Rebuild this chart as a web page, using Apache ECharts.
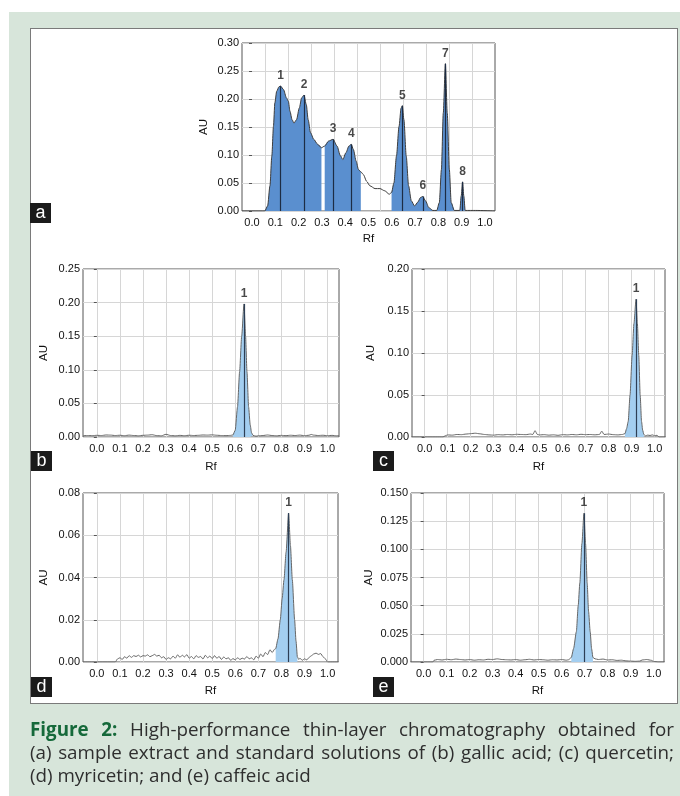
<!DOCTYPE html>
<html><head><meta charset="utf-8">
<script src="https://cdn.jsdelivr.net/npm/echarts@6/dist/echarts.min.js"></script>
<style>
html,body{margin:0;padding:0;width:680px;height:796px;background:#fff;overflow:hidden}
#bg{position:absolute;left:9px;top:12px;width:671px;height:784px;background:#d7e5da}
#box{position:absolute;left:30px;top:28px;width:646px;height:674px;background:#fff;border:1px solid #7a7a7a}
#chart{position:absolute;left:0;top:0;width:680px;height:796px}
.tag{position:absolute;width:21px;height:20px;background:#1b1b1b;color:#fff;font:18px "Liberation Sans",Arial,sans-serif;line-height:18px;text-align:center}
#cap{position:absolute;left:30px;top:718px;width:644px;font-family:"Open Sans",sans-serif;font-size:18.8px;color:#2e2e2e;line-height:23px}
#cap div{white-space:nowrap}
#cap .j{text-align:justify;text-align-last:justify}
#cap b{color:#15693a}
</style></head>
<body>
<div id="bg"></div>
<div id="box"></div>
<div id="chart"></div>
<div class="tag" style="left:30px;top:203px">a</div>
<div class="tag" style="left:31px;top:451px">b</div>
<div class="tag" style="left:373px;top:451px">c</div>
<div class="tag" style="left:31px;top:677px">d</div>
<div class="tag" style="left:373px;top:677px">e</div>
<div id="cap">
<div class="j"><b>Figure 2:</b> High-performance thin-layer chromatography obtained for</div>
<div class="j">(a) sample extract and standard solutions of (b) gallic acid; (c) quercetin;</div>
<div>(d) myricetin; and (e) caffeic acid</div>
</div>
<script>
// ---------- data ----------
const xTickLabels = [0.0,0.1,0.2,0.3,0.4,0.5,0.6,0.7,0.8,0.9,1.0];

// Panel a: sample extract  [Rf, AU]
const profileA = [[-0.043,0],[0.055,0],[0.067,0.009],[0.077,0.045],[0.085,0.098],[0.092,0.151],[0.098,0.193],
 [0.106,0.214],[0.116,0.222],[0.123,0.223],[0.135,0.217],[0.148,0.202],[0.156,0.196],[0.163,0.178],[0.172,0.163],
 [0.180,0.157],[0.191,0.163],[0.203,0.184],[0.213,0.202],[0.223,0.207],[0.233,0.190],[0.241,0.163],[0.251,0.140],
 [0.265,0.128],[0.282,0.119],[0.298,0.113],[0.312,0.116],[0.329,0.125],[0.348,0.128],[0.365,0.116],[0.379,0.099],
 [0.390,0.092],[0.403,0.104],[0.416,0.116],[0.426,0.119],[0.435,0.110],[0.447,0.089],[0.457,0.074],[0.467,0.070],
 [0.478,0.065],[0.492,0.053],[0.506,0.045],[0.528,0.040],[0.549,0.040],[0.570,0.036],[0.589,0.030],[0.599,0.033],
 [0.609,0.050],[0.620,0.098],[0.631,0.151],[0.640,0.184],[0.645,0.188],[0.652,0.163],[0.662,0.098],[0.672,0.045],
 [0.684,0.018],[0.698,0.009],[0.712,0.016],[0.723,0.024],[0.733,0.026],[0.745,0.018],[0.759,0.006],[0.776,0.001],
 [0.793,0.001],[0.804,0.015],[0.813,0.074],[0.821,0.175],[0.830,0.263],[0.838,0.175],[0.847,0.074],[0.855,0.015],
 [0.868,0.001],[0.892,0.001],[0.898,0.027],[0.904,0.052],[0.909,0.027],[0.915,0.001],[0.960,0.001],[1.043,0]];
const fillA = [[0.055,0.298],[0.312,0.467],[0.599,0.868],[0.892,0.915]];
const peakRfA = [0.123,0.223,0.348,0.426,0.645,0.733,0.830,0.904];
const peakAuA = [0.223,0.207,0.128,0.119,0.188,0.026,0.263,0.052];
const peakNamesA = ['1','2','3','4','5','6','7','8'];
const gridA = [0.056,0.154,0.253,0.352,0.450,0.549,0.648,0.747,0.845,0.944];

// Panel b: gallic acid
const profileB = [[-0.06,0.0018],[-0.04,0.0022],[-0.02,0.0020],[0.00,0.0025],[0.02,0.0022],[0.04,0.0030],[0.06,0.0028],
 [0.08,0.0022],[0.10,0.0026],[0.12,0.0020],[0.14,0.0028],[0.16,0.0022],[0.18,0.0018],[0.20,0.0025],[0.22,0.0028],
 [0.24,0.0034],[0.26,0.0020],[0.28,0.0018],[0.30,0.0040],[0.32,0.0022],[0.34,0.0018],[0.36,0.0024],[0.38,0.0020],
 [0.40,0.0026],[0.42,0.0022],[0.44,0.0025],[0.46,0.0030],[0.48,0.0028],[0.50,0.0032],[0.52,0.0026],[0.54,0.0022],
 [0.56,0.0020],[0.58,0.0024],[0.590,0.0030],[0.600,0.010],[0.610,0.045],[0.619,0.097],[0.628,0.150],[0.638,0.198],
 [0.645,0.150],[0.651,0.097],[0.658,0.045],[0.665,0.018],[0.671,0.006],[0.677,0.0025],[0.69,0.0012],[0.70,0.0018],
 [0.72,0.0022],[0.74,0.0030],[0.76,0.0022],[0.78,0.0018],[0.80,0.0024],[0.82,0.0020],[0.84,0.0026],[0.86,0.0022],
 [0.88,0.0028],[0.90,0.0020],[0.92,0.0026],[0.93,0.0038],[0.94,0.0028],[0.96,0.0022],[0.98,0.0026],[1.00,0.0020],
 [1.02,0.0024],[1.04,0.0018],[1.05,0.0020]];
const fillB = [[0.590,0.677]];
const peakRfB = [0.638];
const peakAuB = [0.198];

// Panel c: quercetin
const profileC = [[-0.06,0],[0.08,0],[0.09,0.0015],[0.10,0.0025],[0.12,0.0022],[0.14,0.0030],[0.16,0.0028],[0.18,0.0035],
 [0.20,0.0040],[0.22,0.0045],[0.24,0.0038],[0.26,0.0030],[0.28,0.0025],[0.30,0.0022],[0.32,0.0028],[0.34,0.0025],
 [0.36,0.0030],[0.38,0.0026],[0.40,0.0032],[0.42,0.0030],[0.44,0.0028],[0.46,0.0035],[0.47,0.0030],[0.48,0.0075],
 [0.49,0.0030],[0.50,0.0025],[0.52,0.0028],[0.54,0.0022],[0.56,0.0026],[0.58,0.0020],[0.60,0.0028],[0.62,0.0025],
 [0.64,0.0030],[0.66,0.0026],[0.68,0.0032],[0.70,0.0028],[0.72,0.0030],[0.74,0.0026],[0.76,0.0030],[0.77,0.0070],
 [0.78,0.0030],[0.80,0.0035],[0.82,0.0028],[0.84,0.0025],[0.86,0.0030],[0.871,0.004],[0.878,0.010],[0.885,0.0185],
 [0.893,0.050],[0.902,0.097],[0.910,0.135],[0.919,0.164],[0.925,0.135],[0.931,0.097],[0.937,0.050],[0.943,0.0185],
 [0.948,0.008],[0.953,0.003],[0.96,0.0015],[0.97,0.0022],[0.98,0.0018],[0.99,0.0025],[1.00,0.0015],[1.01,0.0020],
 [1.02,0],[1.05,0]];
const fillC = [[0.871,0.953]];
const peakRfC = [0.919];
const peakAuC = [0.164];

// Panel d: myricetin
const profileD = [[-0.06,0],[0.08,0],[0.09,0.0015],[0.10,0.0020],[0.11,0.0012],[0.12,0.0025],[0.13,0.0018],[0.14,0.0030],
 [0.15,0.0022],[0.16,0.0030],[0.17,0.0026],[0.18,0.0032],[0.19,0.0024],[0.20,0.0030],[0.21,0.0028],[0.22,0.0034],
 [0.23,0.0025],[0.24,0.0030],[0.25,0.0036],[0.26,0.0028],[0.27,0.0032],[0.28,0.0020],[0.29,0.0025],[0.30,0.0012],
 [0.31,0.0020],[0.32,0.0015],[0.33,0.0028],[0.34,0.0018],[0.35,0.0034],[0.36,0.0022],[0.37,0.0032],[0.38,0.0024],
 [0.39,0.0035],[0.40,0.0018],[0.41,0.0026],[0.42,0.0015],[0.43,0.0030],[0.44,0.0022],[0.45,0.0026],[0.46,0.0014],
 [0.47,0.0032],[0.48,0.0020],[0.49,0.0028],[0.50,0.0016],[0.51,0.0030],[0.52,0.0018],[0.53,0.0026],[0.54,0.0012],
 [0.55,0.0024],[0.56,0.0015],[0.57,0.0020],[0.58,0.0008],[0.59,0.0016],[0.60,0.0010],[0.61,0.0020],[0.62,0.0012],
 [0.63,0.0018],[0.64,0.0014],[0.65,0.0026],[0.66,0.0015],[0.67,0.0020],[0.68,0.0010],[0.69,0.0028],[0.70,0.0018],
 [0.71,0.0038],[0.72,0.0025],[0.73,0.0045],[0.74,0.0035],[0.75,0.0058],[0.76,0.0045],[0.77,0.0060],[0.775,0.0063],
 [0.785,0.011],[0.795,0.020],[0.803,0.030],[0.811,0.039],[0.820,0.052],[0.831,0.0705],[0.839,0.055],[0.847,0.039],
 [0.857,0.020],[0.863,0.010],[0.869,0.0024],[0.875,0.0012],[0.88,0.0018],[0.89,0.0008],[0.90,0.0015],[0.91,0.0010],
 [0.92,0.0022],[0.93,0.0030],[0.94,0.0038],[0.95,0.0042],[0.96,0.0036],[0.97,0.0040],[0.98,0.0025],[0.99,0.0015],
 [1.00,0],[1.05,0]];
const fillD = [[0.775,0.869]];
const peakRfD = [0.831];
const peakAuD = [0.0705];

// Panel e: caffeic acid
const profileE = [[-0.06,0],[0.04,0],[0.045,0.0015],[0.06,0.0022],[0.08,0.0018],[0.10,0.0024],[0.12,0.0020],[0.14,0.0026],
 [0.16,0.0022],[0.18,0.0018],[0.20,0.0022],[0.22,0.0016],[0.24,0.0020],[0.26,0.0018],[0.28,0.0024],[0.30,0.0022],
 [0.32,0.0028],[0.34,0.0022],[0.36,0.0020],[0.38,0.0018],[0.40,0.0022],[0.42,0.0016],[0.44,0.0020],[0.46,0.0024],
 [0.48,0.0018],[0.50,0.0022],[0.52,0.0020],[0.54,0.0016],[0.56,0.0020],[0.58,0.0018],[0.60,0.0022],[0.62,0.0016],
 [0.63,0.0020],[0.642,0.004],[0.652,0.012],[0.664,0.027],[0.672,0.050],[0.679,0.070],[0.688,0.105],[0.697,0.132],
 [0.704,0.105],[0.711,0.070],[0.717,0.045],[0.724,0.027],[0.730,0.012],[0.736,0.004],[0.745,0.0028],[0.76,0.0022],
 [0.78,0.0026],[0.80,0.0018],[0.82,0.0020],[0.84,0.0014],[0.86,0.0016],[0.88,0.0010],[0.90,0.0008],[0.92,0.0006],
 [0.94,0.0008],[0.95,0.0018],[0.97,0.0022],[0.99,0.0015],[1.00,0.0005],[1.02,0],[1.05,0]];
const fillE = [[0.642,0.736]];
const peakRfE = [0.697];
const peakAuE = [0.132];

const yTicksA = {max:0.30, step:0.05, dec:2};
const yTicksB = {max:0.25, step:0.05, dec:2};
const yTicksC = {max:0.20, step:0.05, dec:2};
const yTicksD = {max:0.08, step:0.02, dec:2};
const yTicksE = {max:0.150, step:0.025, dec:3};

// ---------- layout / style ----------
const FONT = '"Liberation Sans", Arial, sans-serif';
const panels = [
  {profile:profileA, fills:fillA, peakRf:peakRfA, peakAu:peakAuA, names:peakNamesA, grid:gridA, y:yTicksA,
   rect:{left:242,top:43,width:253,height:168}, xr:[-0.043,1.043], fill:'#5a8fcf', peakLine:'#1d2c44', nameGapY:32, nameGapX:22, smooth:0.25, lineColor:'#3d3d3d'},
  {profile:profileB, fills:fillB, peakRf:peakRfB, peakAu:peakAuB, names:['1'], grid:xTickLabels, y:yTicksB,
   rect:{left:83,top:269,width:256,height:168}, xr:[-0.06,1.05], fill:'#a3cef0', peakLine:'#2c3e55', nameGapY:33, nameGapX:24, smooth:0.2, lineColor:'#666'},
  {profile:profileC, fills:fillC, peakRf:peakRfC, peakAu:peakAuC, names:['1'], grid:xTickLabels, y:yTicksC,
   rect:{left:412,top:269,width:253,height:168}, xr:[-0.055,1.045], fill:'#a3cef0', peakLine:'#2c3e55', nameGapY:35, nameGapX:24, smooth:0.2, lineColor:'#666'},
  {profile:profileD, fills:fillD, peakRf:peakRfD, peakAu:peakAuD, names:['1'], grid:xTickLabels, y:yTicksD,
   rect:{left:83,top:493,width:255,height:169}, xr:[-0.06,1.045], fill:'#a3cef0', peakLine:'#2c3e55', nameGapY:33, nameGapX:23, smooth:0.2, lineColor:'#666'},
  {profile:profileE, fills:fillE, peakRf:peakRfE, peakAu:peakAuE, names:['1'], grid:xTickLabels, y:yTicksE,
   rect:{left:411,top:493,width:253,height:169}, xr:[-0.055,1.045], fill:'#a3cef0', peakLine:'#2c3e55', nameGapY:36, nameGapX:23, smooth:0.2, lineColor:'#666'}
];

const grids = [], xAxes = [], yAxes = [], series = [];
panels.forEach((p, i) => {
  grids.push(Object.assign({show:true, backgroundColor:'#fff', borderColor:'#555', borderWidth:1, containLabel:false}, p.rect));
  xAxes.push({
    type:'value', gridIndex:i, min:p.xr[0], max:p.xr[1],
    name:'Rf', nameLocation:'middle', nameGap:p.nameGapX,
    nameTextStyle:{fontFamily:FONT, fontSize:11.5, color:'#111'},
    axisLine:{show:false},
    axisTick:{show:false, customValues:p.grid},
    axisLabel:{customValues:xTickLabels, formatter:v => v.toFixed(1), fontFamily:FONT, fontSize:11, color:'#111', margin:6},
    splitLine:{show:true, lineStyle:{color:'#d6d6d6', width:1}}
  });
  yAxes.push({
    type:'value', gridIndex:i, min:0, max:p.y.max, interval:p.y.step,
    name:'AU', nameLocation:'middle', nameGap:p.nameGapY,
    nameTextStyle:{fontFamily:FONT, fontSize:11.5, color:'#111'},
    axisLine:{show:false},
    axisTick:{show:true, length:3, lineStyle:{color:'#555'}},
    axisLabel:{formatter:v => v.toFixed(p.y.dec), fontFamily:FONT, fontSize:11, color:'#111', margin:3},
    splitLine:{show:true, lineStyle:{color:'#d6d6d6', width:1}}
  });
  // fills
  p.fills.forEach(f => {
    series.push({
      type:'line', xAxisIndex:i, yAxisIndex:i, showSymbol:false, silent:true,
      smooth:p.smooth, smoothMonotone:'x',
      data:p.profile.filter(d => d[0] >= f[0] - 1e-9 && d[0] <= f[1] + 1e-9),
      lineStyle:{width:0}, areaStyle:{color:p.fill, opacity:1}, z:2
    });
  });
  // curve with peak lines
  series.push({
    type:'line', xAxisIndex:i, yAxisIndex:i, showSymbol:false, silent:true,
    smooth:p.smooth, smoothMonotone:'x', data:p.profile,
    lineStyle:{color:p.lineColor, width:1}, z:3,
    markLine:{silent:true, symbol:['none','none'], label:{show:false},
      lineStyle:{color:p.peakLine, width:1.2, type:'solid'},
      data:p.peakRf.map((x, k) => [{coord:[x, 0]}, {coord:[x, p.peakAu[k]]}])}
  });
  // peak numbers
  series.push({
    type:'scatter', xAxisIndex:i, yAxisIndex:i, silent:true, symbolSize:1,
    itemStyle:{color:'rgba(0,0,0,0)'}, z:4,
    data:p.peakRf.map((x, k) => ({value:[x, p.peakAu[k]], name:p.names[k]})),
    label:{show:true, position:'top', distance:4, formatter:'{b}', fontFamily:FONT, fontSize:12, fontWeight:'bold', color:'#1a1a1a'}
  });
});

const chart = echarts.init(document.getElementById('chart'), null, {renderer:'canvas'});
chart.setOption({animation:false, backgroundColor:'transparent', grid:grids, xAxis:xAxes, yAxis:yAxes, series:series});
</script>
</body></html>
